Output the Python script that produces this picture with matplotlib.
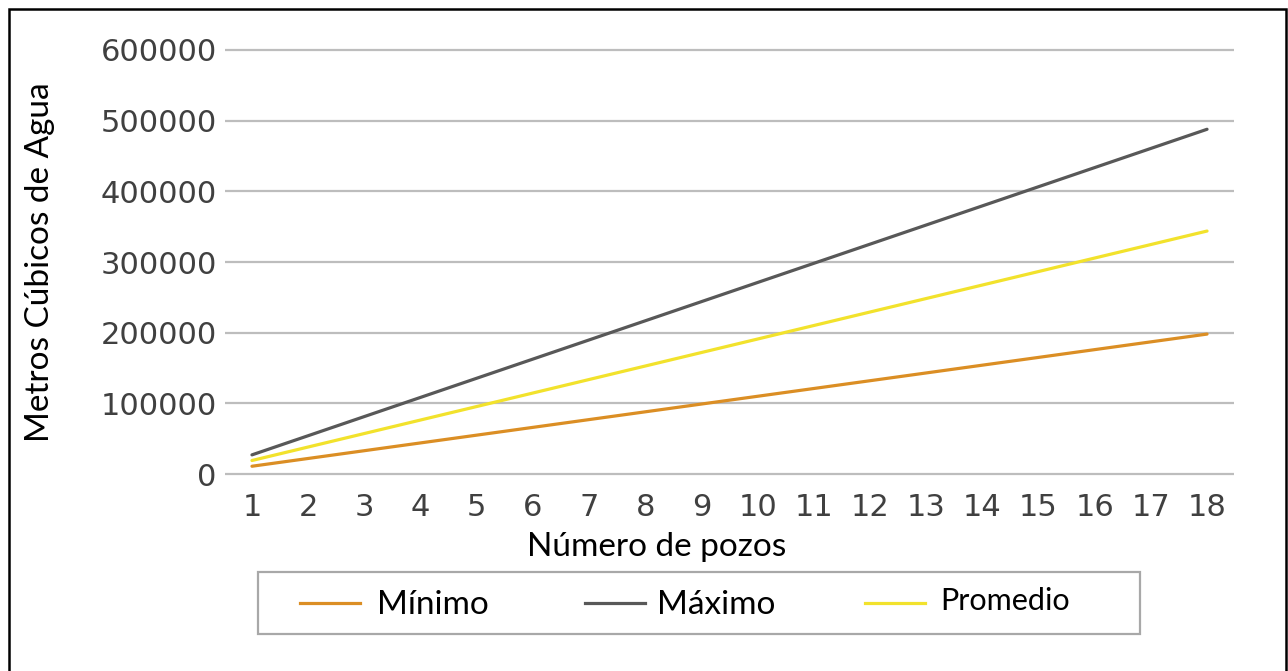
import matplotlib
matplotlib.use("Agg")
import matplotlib.pyplot as plt
from matplotlib.patches import Rectangle
from matplotlib.lines import Line2D

# Volume of water by number of wells
pozos = list(range(1, 19))
minimo = [11000, 22000, 33000, 44000, 55000, 66000, 77000, 88000, 99000,
          110000, 121000, 132000, 143000, 154000, 165000, 176000, 187000, 198000]
maximo = [27100, 54200, 81300, 108400, 135500, 162600, 189700, 216800, 243900,
          271000, 298100, 325200, 352300, 379400, 406500, 433600, 460700, 487800]
promedio = [19100, 38200, 57300, 76400, 95500, 114600, 133700, 152800, 171900,
            191000, 210100, 229200, 248300, 267400, 286500, 305600, 324700, 343800]
y_ticks = [0, 100000, 200000, 300000, 400000, 500000, 600000]

W, H = 1288, 671
fig = plt.figure(figsize=(W / 100, H / 100), dpi=100)

def fx(px):
    return px / W

def fy(py):
    return 1 - py / H

# Axes area
left, right = 225, 1234
top, bottom = 46.45, 477.55
ax = fig.add_axes([fx(left), fy(bottom), fx(right) - fx(left), (bottom - top) / H])

c_min, c_max, c_prom = "#DB8E24", "#585858", "#F2E22C"
lw = 2.3
ax.plot(pozos, minimo, color=c_min, lw=lw, solid_capstyle="round", zorder=3)
ax.plot(pozos, maximo, color=c_max, lw=lw, solid_capstyle="round", zorder=3)
ax.plot(pozos, promedio, color=c_prom, lw=lw, solid_capstyle="round", zorder=3)

ax.set_xlim(0.52, 18.48)
ax.set_ylim(-5000, 605000)
ax.set_xticks(pozos)
ax.set_yticks(y_ticks)
ax.set_yticklabels([str(v) for v in y_ticks])
ax.grid(axis="y", color="#BDBDBD", lw=1.6)
ax.grid(axis="x", visible=False)
for s in ax.spines.values():
    s.set_visible(False)
ax.tick_params(axis="both", length=0, labelsize=22, labelcolor="#404040")
ax.tick_params(axis="y", pad=6)
ax.tick_params(axis="x", pad=11)

label_font = "Lato"
fig.text(fx(40), fy(262), "Metros Cúbicos de Agua", rotation=90,
         ha="center", va="center", fontsize=24, family=label_font, color="black")
fig.text(fx(657), fy(547), "Número de pozos", ha="center", va="center",
         fontsize=24, family=label_font, color="black")

# Legend box
fig.patches.append(Rectangle((fx(258), fy(634)), fx(1140) - fx(258), (634 - 572) / H,
                             transform=fig.transFigure, fill=False,
                             edgecolor="#A8A8A8", lw=1.6))
entries = [
    (300, 377, "Mínimo", c_min, 24, 605),
    (585, 657, "Máximo", c_max, 24, 605),
    (865, 940, "Promedio", c_prom, 22, 601),
]
for x0, xt, label, col, fs, ty in entries:
    fig.lines.append(Line2D([fx(x0), fx(x0 + 60)], [fy(603), fy(603)],
                            transform=fig.transFigure, color=col, lw=2.3))
    fig.text(fx(xt), fy(ty), label, ha="left", va="center", fontsize=fs,
             family=label_font, color="black")

# Outer frame
fig.patches.append(Rectangle((fx(9), -0.05), fx(1286) - fx(9), fy(9) + 0.05,
                             transform=fig.transFigure, fill=False,
                             edgecolor="black", lw=1.8))

fig.savefig("out.png", dpi=100)
